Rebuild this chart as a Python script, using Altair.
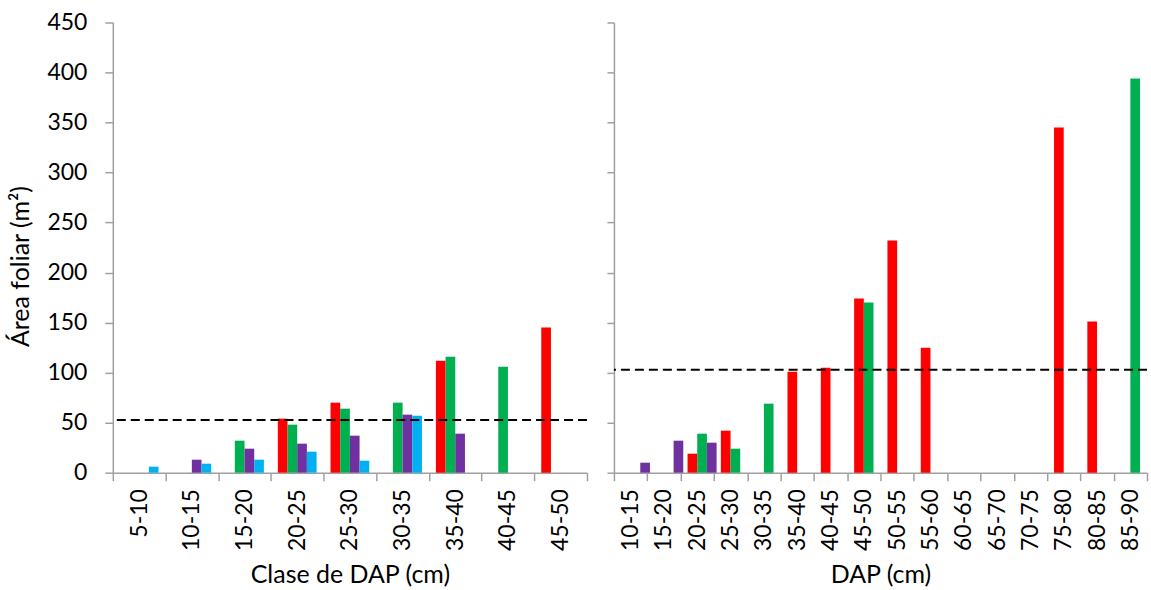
import altair as alt
import pandas as pd

FONT = "Lato"
AXIS_GRAY = "#a0a0a0"

series_left = ["Serie 1", "Serie 2", "Serie 3", "Serie 4"]
series_right = ["Serie 1", "Serie 2", "Serie 3"]
colors_left = ["#FF0000", "#00B050", "#7030A0", "#00B0F0"]
colors_right = ["#FF0000", "#00B050", "#7030A0"]

left_classes = ["5-10", "10-15", "15-20", "20-25", "25-30", "30-35", "35-40", "40-45", "45-50"]
left_red = [None, None, None, 54, 70, None, 112, None, 145]
left_green = [None, None, 32, 48, 64, 70, 116, 106, None]
left_purple = [None, 13, 24, 29, 37, 58, 39, None, None]
left_blue = [6, 9, 13, 21, 12, 57, None, None, None]
left_ref = 52.7

right_classes = ["10-15", "15-20", "20-25", "25-30", "30-35", "35-40", "40-45", "45-50",
                 "50-55", "55-60", "60-65", "65-70", "70-75", "75-80", "80-85", "85-90"]
right_red = [None, None, 19, 42, None, 101, 105, 174, 232, 125, None, None, None, 345, 151, None]
right_green = [None, None, 39, 24, 69, None, None, 170, None, None, None, None, None, None, None, 394]
right_purple = [10, 32, 30, None, None, None, None, None, None, None, None, None, None, None, None, None]
right_ref = 103


def to_frame(classes, names, cols):
    rows = []
    for name, vals in zip(names, cols):
        for c, v in zip(classes, vals):
            if v is not None:
                rows.append({"clase": c, "serie": name, "valor": v})
    return pd.DataFrame(rows)


df_left = to_frame(left_classes, series_left, [left_red, left_green, left_purple, left_blue])
df_right = to_frame(right_classes, series_right, [right_red, right_green, right_purple])


def panel(df, classes, names, colors, ref, width, po, xtitle, first):
    if first:
        yaxis = alt.Axis(title="Área foliar (m²)", values=list(range(0, 451, 50)), grid=False,
                         tickSize=8, labelPadding=18, titlePadding=13, titleY=244,
                         domainColor=AXIS_GRAY, tickColor=AXIS_GRAY, domainWidth=1.5, tickWidth=1.5)
    else:
        yaxis = alt.Axis(title=None, labels=False, values=list(range(0, 451, 50)), grid=False,
                         tickSize=7, domainColor=AXIS_GRAY, tickColor=AXIS_GRAY,
                         domainWidth=1.5, tickWidth=1.5)
    yenc = alt.Y("valor:Q", scale=alt.Scale(domain=[0, 450], nice=False), axis=yaxis)
    bars = alt.Chart(df).mark_bar().encode(
        x=alt.X("clase:N", sort=classes,
                scale=alt.Scale(domain=classes, paddingInner=0, paddingOuter=0),
                axis=alt.Axis(title=xtitle, labelAngle=270, tickBand="extent", tickSize=8,
                              labelPadding=8, titlePadding=12,
                              domainColor=AXIS_GRAY, tickColor=AXIS_GRAY,
                              domainWidth=1.5, tickWidth=1.5)),
        xOffset=alt.XOffset("serie:N", scale=alt.Scale(domain=names, paddingOuter=po, paddingInner=0)),
        y=yenc,
        color=alt.Color("serie:N", scale=alt.Scale(domain=names, range=colors), legend=None),
    )
    rule = alt.Chart(pd.DataFrame({"valor": [ref]})).mark_rule(
        color="black", strokeDash=[9, 5], strokeWidth=2
    ).encode(y=yenc)
    return alt.layer(bars, rule).properties(width=width, height=451)


left = panel(df_left, left_classes, series_left, colors_left, left_ref, 475, 0.72,
             "Clase de DAP (cm)", True)
right = panel(df_right, right_classes, series_right, colors_right, right_ref, 534, 0.85,
              "DAP (cm)", False)

chart = alt.hconcat(left, right, spacing=15).properties(
    padding={"top": 11, "left": 8, "right": 3, "bottom": 3},
    background="white"
).configure_view(stroke=None).configure_axis(
    labelFont=FONT, titleFont=FONT, labelFontSize=23, titleFontSize=25,
    titleFontWeight="normal", labelColor="black", titleColor="black"
)

chart.save("out.html", embed_options={"renderer": "svg", "actions": False})
